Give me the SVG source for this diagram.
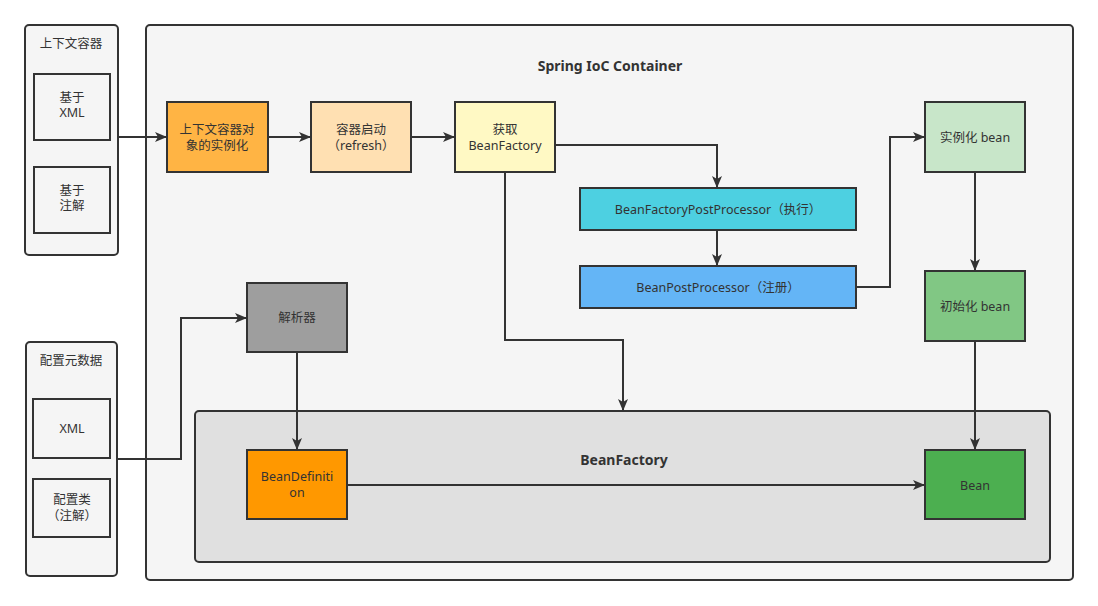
<svg xmlns="http://www.w3.org/2000/svg" width="1098" height="606" viewBox="0 0 1098 606">
<defs>
<marker id="ah" markerWidth="12" markerHeight="10" refX="11" refY="5" orient="auto" markerUnits="userSpaceOnUse">
<path d="M0,0 L12,5 L0,10 L3,5 Z" fill="#333"/>
</marker>
<style>
.panel{fill:#f5f5f5;stroke:#333;stroke-width:2}
.box{stroke:#333;stroke-width:2}
.t{font-family:"Noto Sans","Noto Sans CJK SC",sans-serif;font-size:12.5px;fill:#333;text-anchor:middle}
.b{font-family:"Noto Sans","Noto Sans CJK SC",sans-serif;font-size:14px;font-weight:bold;fill:#333;text-anchor:middle}
.c{fill:none;stroke:#333;stroke-width:2}
</style>
</defs>
<rect width="1098" height="606" fill="#fff"/>
<g id="main-container">
<rect class="panel" x="146" y="25" width="927" height="555" rx="4"/>
<text class="b" x="610" y="71">Spring IoC Container</text>
</g>
<g id="beanfactory-container">
<rect x="195" y="411" width="855" height="151" rx="4" fill="#e0e0e0" stroke="#333" stroke-width="2"/>
<text class="b" x="624" y="465">BeanFactory</text>
</g>
<g id="context-panel">
<rect class="panel" x="25" y="25" width="93" height="230" rx="4"/>
<text class="t" x="71" y="48">上下文容器</text>
</g>
<g id="xml-based">
<rect class="box" x="34" y="74" width="76" height="66" fill="#f5f5f5"/>
<text class="t" x="72" y="102">基于</text>
<text class="t" x="72" y="117">XML</text>
</g>
<g id="annotation-based">
<rect class="box" x="34" y="167" width="76" height="66" fill="#f5f5f5"/>
<text class="t" x="72" y="195">基于</text>
<text class="t" x="72" y="210">注解</text>
</g>
<g id="metadata-panel">
<rect class="panel" x="26" y="342" width="91" height="234" rx="4"/>
<text class="t" x="71" y="365">配置元数据</text>
</g>
<g id="xml">
<rect class="box" x="33" y="399" width="77" height="59" fill="#f5f5f5"/>
<text class="t" x="72" y="433">XML</text>
</g>
<g id="config-class">
<rect class="box" x="33" y="479" width="77" height="58" fill="#f5f5f5"/>
<text class="t" x="72" y="504">配置类</text>
<text class="t" x="72" y="520">（注解）</text>
</g>
<g id="ctx-instantiate">
<rect class="box" x="167" y="102" width="101" height="70" fill="#ffb444"/>
<text class="t" x="217" y="134">上下文容器对</text>
<text class="t" x="217" y="150">象的实例化</text>
</g>
<g id="refresh">
<rect class="box" x="311" y="102" width="100" height="70" fill="#ffe0b2"/>
<text class="t" x="361" y="134">容器启动</text>
<text class="t" x="361" y="150">（refresh）</text>
</g>
<g id="get-beanfactory">
<rect class="box" x="455" y="102" width="100" height="70" fill="#fff9c4"/>
<text class="t" x="505" y="134">获取</text>
<text class="t" x="505" y="150">BeanFactory</text>
</g>
<g id="bfpp">
<rect class="box" x="580" y="188" width="276" height="42" fill="#4dd0e1"/>
<text class="t" x="718" y="214">BeanFactoryPostProcessor（执行）</text>
</g>
<g id="bpp">
<rect class="box" x="580" y="266" width="276" height="42" fill="#64b5f6"/>
<text class="t" x="718" y="292">BeanPostProcessor（注册）</text>
</g>
<g id="instantiate-bean">
<rect class="box" x="925" y="102" width="100" height="70" fill="#c8e6c9"/>
<text class="t" x="975" y="142">实例化 bean</text>
</g>
<g id="init-bean">
<rect class="box" x="925" y="271" width="100" height="70" fill="#81c784"/>
<text class="t" x="975" y="311">初始化 bean</text>
</g>
<g id="parser">
<rect class="box" x="247" y="283" width="100" height="69" fill="#9e9e9e"/>
<text class="t" x="297" y="322">解析器</text>
</g>
<g id="beandefinition">
<rect class="box" x="247" y="450" width="100" height="69" fill="#ff9800"/>
<text class="t" x="297" y="481">BeanDefiniti</text>
<text class="t" x="297" y="497">on</text>
</g>
<g id="bean">
<rect class="box" x="925" y="450" width="100" height="69" fill="#4caf50"/>
<text class="t" x="975" y="490">Bean</text>
</g>
<g id="connectors">
<path class="c" d="M118,137 H166" marker-end="url(#ah)"/>
<path class="c" d="M268,137 H310" marker-end="url(#ah)"/>
<path class="c" d="M411,137 H454" marker-end="url(#ah)"/>
<path class="c" d="M555,145 H717 V187" marker-end="url(#ah)"/>
<path class="c" d="M717,230 V265" marker-end="url(#ah)"/>
<path class="c" d="M856,287 H890 V137 H924" marker-end="url(#ah)"/>
<path class="c" d="M975,172 V270" marker-end="url(#ah)"/>
<path class="c" d="M975,341 V449" marker-end="url(#ah)"/>
<path class="c" d="M505,172 V340 H623 V410" marker-end="url(#ah)"/>
<path class="c" d="M297,352 V449" marker-end="url(#ah)"/>
<path class="c" d="M347,485 H924" marker-end="url(#ah)"/>
<path class="c" d="M117,459 H181 V318 H246" marker-end="url(#ah)"/>
</g>
</svg>
